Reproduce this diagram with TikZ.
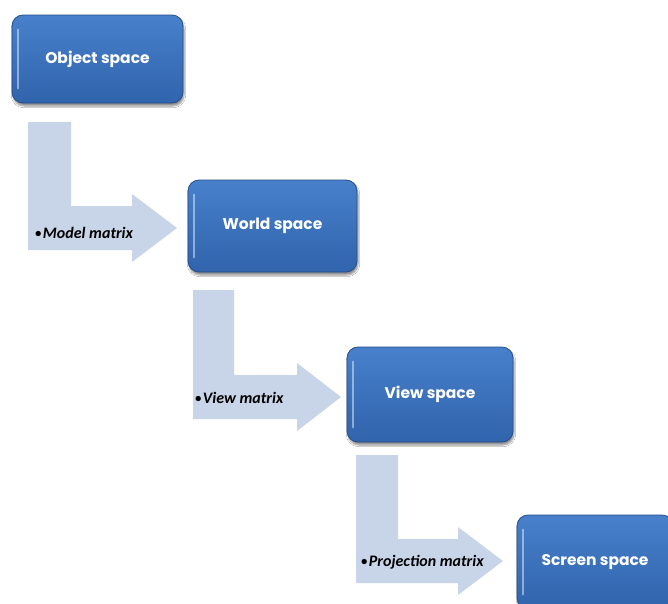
\documentclass[tikz,border=0pt]{standalone}
\usepackage{fontspec}
\setsansfont{Poppins}
\newfontfamily\labelfont{Carlito}
\usetikzlibrary{calc,shadows.blur}

\definecolor{boxtop}{RGB}{72,128,203}
\definecolor{boxbottom}{RGB}{48,100,172}
\definecolor{boxedge}{RGB}{38,78,138}
\definecolor{arrowfill}{RGB}{200,213,232}

\newcommand{\stepdot}{{\fontsize{12.5}{12}\selectfont\raisebox{1.2pt}{•}}\hspace{1.5pt}}

\tikzset{
  spacebox/.style 2 args={rounded corners=11pt, minimum width=#1pt, minimum height=#2pt,
    draw=boxedge, line width=0.8pt, top color=boxtop, bottom color=boxbottom,
    blur shadow={shadow xshift=1pt, shadow yshift=-3pt, shadow blur steps=6, shadow opacity=45},
    text=white, font=\sffamily\bfseries\fontsize{15.5}{18}\selectfont},
  bentarrow/.style={fill=arrowfill, draw=none},
  steplabel/.style={font=\labelfont\bfseries\itshape\fontsize{16}{19}\selectfont,
    anchor=west, inner sep=0pt, text=black},
  gloss/.style={draw=white, line width=2.2pt, opacity=0.45, line cap=round}
}

\begin{document}
\begin{tikzpicture}[x=1pt, y=-1pt]
  \useasboundingbox (0,0) rectangle (668,603);
  \clip (0,0) rectangle (668,603);
  \fill[white] (0,0) rectangle (668,603);

  % bent arrows leading from one space to the next
  \path[bentarrow] (28,122) -- (71,122) -- (71,206) -- (132,206) -- (132,194)
    -- (177,228) -- (132,262) -- (132,250) -- (28,250) -- cycle;
  \path[bentarrow] (193,290) -- (234,290) -- (234,375) -- (297,375) -- (297,363)
    -- (341,397) -- (297,431) -- (297,419) -- (193,419) -- cycle;
  \path[bentarrow] (356,455) -- (398,455) -- (398,539) -- (458,539) -- (458,527)
    -- (503,561) -- (458,595) -- (458,583) -- (356,583) -- cycle;

  % transformation labels
  \node[steplabel] (lmodel) at (35,233) {\stepdot Model matrix};
  \node[steplabel] (lview) at (195,398) {\stepdot View matrix};
  \node[steplabel] (lproj) at (361,562) {\stepdot Projection matrix};

  % coordinate spaces
  \node[spacebox={171}{88}] (obj) at (97.5,59) {Object space};
  \node[spacebox={169}{92}] (world) at (272.5,226) {World space};
  \node[spacebox={166}{95}] (view) at (430,394.5) {View space};
  \node[spacebox={156}{94}] (screen) at (595,562) {Screen space};

  % glossy highlight along the left edge of each box
  \foreach \b in {obj,world,view,screen}{
    \draw[gloss] ($(\b.north west)+(6,15)$) -- ($(\b.south west)+(6,-15)$);
  }
\end{tikzpicture}
\end{document}
